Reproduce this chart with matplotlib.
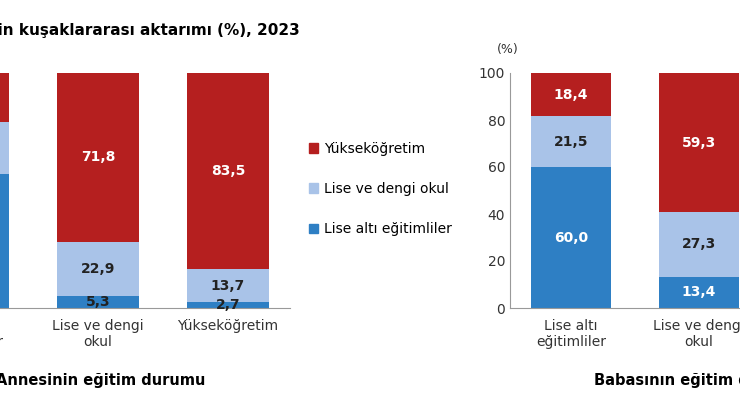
import matplotlib.pyplot as plt
from matplotlib.patches import Patch

cats_mother = ["Lise altı\neğitimliler", "Lise ve dengi\nokul", "Yükseköğretim"]
cats_father = ["Lise altı\neğitimliler", "Lise ve dengi\nokul", "Yükseköğretim"]
series = ["Lise altı eğitimliler", "Lise ve dengi okul", "Yükseköğretim"]
mother = {
    "Lise altı eğitimliler": [57.0, 5.3, 2.7],
    "Lise ve dengi okul": [22.0, 22.9, 13.7],
    "Yükseköğretim": [21.0, 71.8, 83.5],
}
father = {
    "Lise altı eğitimliler": [60.0, 13.4, 5.0],
    "Lise ve dengi okul": [21.5, 27.3, 20.0],
    "Yükseköğretim": [18.4, 59.3, 75.0],
}
colors = {"Lise altı eğitimliler": "#2e7fc4",
          "Lise ve dengi okul": "#a9c3e8",
          "Yükseköğretim": "#b51f1f"}
txtcol = {"Lise altı eğitimliler": "white",
          "Lise ve dengi okul": "#222222",
          "Yükseköğretim": "white"}

W, H = 740, 420
fig = plt.figure(figsize=(7.4, 4.2), dpi=100)


def pax(x0, x1, y0=112, y1=347):
    return fig.add_axes([x0 / W, y0 / H, (x1 - x0) / W, (y1 - y0) / H])


def draw(ax, cats, data):
    x = list(range(len(cats)))
    bottom = [0] * len(cats)
    for s in series:
        vals = data[s]
        ax.bar(x, vals, 0.63, bottom=bottom, color=colors[s])
        for xi, b, v in zip(x, bottom, vals):
            c = "#222222" if v < 8 else txtcol[s]
            ax.text(xi, b + v / 2, f"{v:.1f}".replace(".", ","), ha="center",
                    va="center", color=c, fontsize=10, fontweight="bold")
        bottom = [b + v for b, v in zip(bottom, vals)]
    ax.set_xticks(x)
    ax.set_xticklabels(cats, fontsize=10, color="#333333")
    ax.set_ylim(0, 100)
    for sp in ["top", "right"]:
        ax.spines[sp].set_visible(False)
    ax.spines["bottom"].set_color("#999999")
    ax.spines["left"].set_color("#999999")
    ax.tick_params(axis="x", length=0, pad=8)
    ax.set_yticks(range(0, 101, 20))
    ax.tick_params(axis="y", labelsize=10, colors="#333333", length=0)


axL = pax(-150, 290)
draw(axL, cats_mother, mother)
axL.set_xlim((-150 + 32) / 130, (290 + 32) / 130)

axR = pax(510, 800)
draw(axR, cats_father, father)
axR.set_xlim((510 - 571) / 128, (800 - 571) / 128)

fig.text(300 / W, 1 - 30 / H, "Eğitimin kuşaklararası aktarımı (%), 2023",
         ha="right", va="center", fontsize=11, fontweight="bold")
fig.text(508 / W, 1 - 50 / H, "(%)", ha="center", va="center", fontsize=9, color="#333333")
fig.text(205 / W, 1 - 380 / H, "Annesinin eğitim durumu", ha="right", va="center",
         fontsize=10.5, fontweight="bold")
fig.text(594 / W, 1 - 380 / H, "Babasının eğitim durumu", ha="left", va="center",
         fontsize=10.5, fontweight="bold")

handles = [Patch(color=colors[s]) for s in reversed(series)]
fig.legend(handles, list(reversed(series)), loc="center left",
           bbox_to_anchor=(296 / W, 1 - 189 / H), frameon=False, fontsize=10,
           handlelength=0.7, handleheight=0.7, labelspacing=1.9, handletextpad=0.4)

fig.savefig("out.png", dpi=100)
